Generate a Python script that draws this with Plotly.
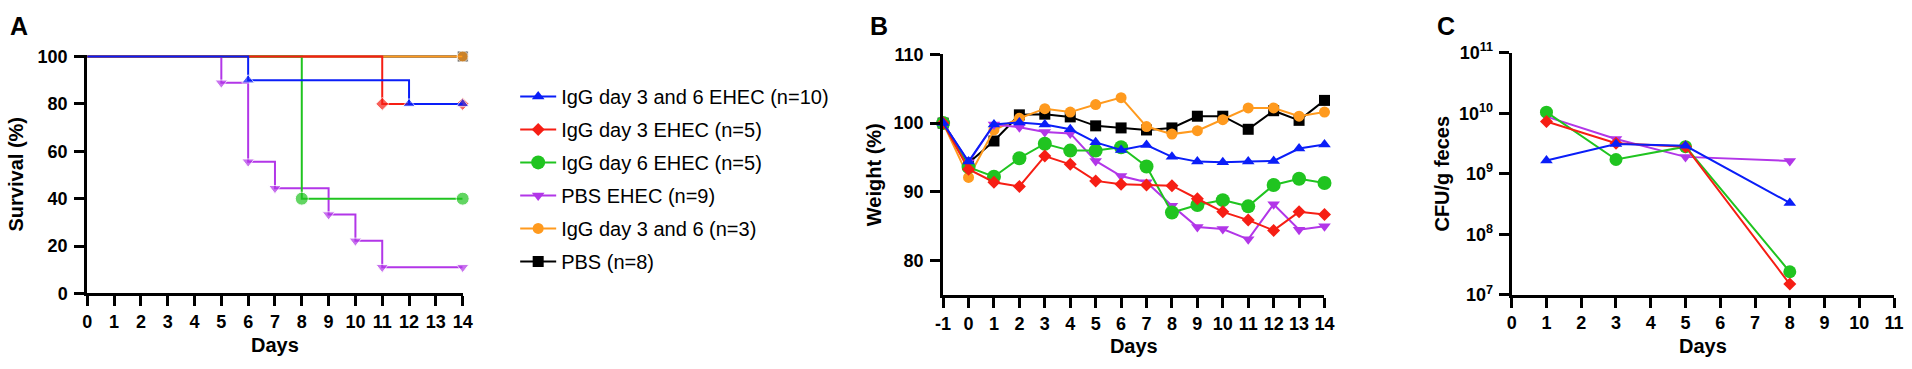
import plotly.graph_objects as go

W, H = 1912, 369

# ---------------- data ----------------
# Panel A: survival (%)
surv_days_blue = [0, 6, 12, 14]
surv_blue = [100, 90, 80, 80]
surv_days_red = [0, 11, 14]
surv_red = [100, 80, 80]
surv_days_green = [0, 8, 14]
surv_green = [100, 40, 40]
surv_days_purple = [0, 5, 6, 7, 9, 10, 11, 14]
surv_purple = [100, 88.9, 55.6, 44.4, 33.3, 22.2, 11.1, 11.1]
surv_days_orange = [0, 14]
surv_orange = [100, 100]
surv_days_black = [0, 14]
surv_black = [100, 100]
surv_ticks = [0, 20, 40, 60, 80, 100]

# Panel B: weight (%)
weight_days = [-1, 0, 1, 2, 3, 4, 5, 6, 7, 8, 9, 10, 11, 12, 13, 14]
weight_blue = [100, 94.4, 99.8, 100.1, 99.8, 99.1, 97.2, 96.1, 96.8, 95.1, 94.4, 94.3, 94.4, 94.5, 96.3, 96.9]
weight_red = [100, 93.3, 91.4, 90.8, 95.2, 94.0, 91.6, 91.1, 91.0, 90.9, 89.0, 87.1, 85.9, 84.4, 87.1, 86.7]
weight_green = [100, 93.6, 92.2, 94.9, 97.0, 96.0, 96.0, 96.5, 93.7, 87.0, 88.1, 88.8, 87.9, 91.0, 91.9, 91.3]
weight_purple = [100, 94.3, 99.8, 99.4, 98.7, 98.5, 94.5, 92.3, 91.4, 88.0, 84.9, 84.6, 83.1, 88.2, 84.5, 85.0]
weight_orange = [100, 92.1, 99.0, 100.7, 102.1, 101.6, 102.7, 103.7, 99.5, 98.4, 98.9, 100.5, 102.2, 102.2, 101.0, 101.6]
weight_black = [100, 94.2, 97.4, 101.2, 101.3, 100.9, 99.6, 99.3, 99.0, 99.3, 101.0, 101.0, 99.1, 101.8, 100.4, 103.3]
weight_ticks = [80, 90, 100, 110]

# Panel C: CFU/g feces
cfu_days = [1, 3, 5, 8]
cfu_blue = [1.65e9, 3.1e9, 2.9e9, 3.3e8]
cfu_red = [7.3e9, 3.2e9, 2.8e9, 1.5e7]
cfu_green = [1.04e10, 1.72e9, 2.8e9, 2.4e7]
cfu_purple = [8.8e9, 3.75e9, 1.9e9, 1.63e9]

cfu_tickvals = [1e7, 1e8, 1e9, 1e10, 1e11]
cfu_ticktext = ["10<sup>7</sup>", "10<sup>8</sup>", "10<sup>9</sup>", "10<sup>10</sup>", "10<sup>11</sup>"]

group_names = {
    "blue": "IgG day 3 and 6 EHEC (n=10)",
    "red": "IgG day 3 EHEC (n=5)",
    "green": "IgG day 6 EHEC (n=5)",
    "purple": "PBS EHEC (n=9)",
    "orange": "IgG day 3 and 6 (n=3)",
    "black": "PBS (n=8)",
}

# ---------------- styles ----------------
COL = {"blue": "#0A1EF8", "red": "#F61E14", "green": "#20C420", "purple": "#B236E8",
       "orange": "#FF9A1E", "black": "#000000"}
SYM = {"blue": "triangle-up", "red": "diamond", "green": "circle", "purple": "triangle-down",
       "orange": "circle", "black": "square"}
SIZE = {"blue": 11, "red": 10, "green": 14, "purple": 11, "orange": 11, "black": 11}
RANK = {"blue": 1, "red": 2, "green": 3, "purple": 4, "orange": 5, "black": 6}
DRAW_ORDER = ["black", "orange", "purple", "green", "red", "blue"]

FONT = "Liberation Sans, Arial, sans-serif"

def px_x(p):
    return p / W

def px_y(p):
    return 1 - p / H

fig = go.Figure()

surv = {"blue": (surv_days_blue, surv_blue), "red": (surv_days_red, surv_red),
        "green": (surv_days_green, surv_green), "purple": (surv_days_purple, surv_purple),
        "orange": (surv_days_orange, surv_orange), "black": (surv_days_black, surv_black)}
weight = {"blue": weight_blue, "red": weight_red, "green": weight_green,
          "purple": weight_purple, "orange": weight_orange, "black": weight_black}
cfu = {"blue": cfu_blue, "red": cfu_red, "green": cfu_green, "purple": cfu_purple}

# Panel A (Kaplan-Meier step curves)
for k in DRAW_ORDER:
    xs, ys = surv[k]
    s = SIZE[k] - 1 if k == "green" else SIZE[k]
    fig.add_trace(go.Scatter(
        x=xs, y=ys, mode="lines+markers", line=dict(color=COL[k], width=2, shape="hv"),
        marker=dict(symbol=SYM[k], color=COL[k], size=[0] + [s] * (len(xs) - 1)),
        showlegend=False, cliponaxis=False, xaxis="x", yaxis="y", name=group_names[k]))

# Panel B (weight)
for k in DRAW_ORDER:
    fig.add_trace(go.Scatter(
        x=weight_days, y=weight[k], mode="lines+markers", line=dict(color=COL[k], width=2),
        marker=dict(symbol=SYM[k], color=COL[k], size=SIZE[k]),
        name=group_names[k], legendgroup=k, legendrank=RANK[k], showlegend=True,
        cliponaxis=False, xaxis="x2", yaxis="y2"))

# Panel C (CFU)
for k in ["purple", "green", "red", "blue"]:
    s = SIZE[k] - 1 if k == "green" else SIZE[k]
    fig.add_trace(go.Scatter(
        x=cfu_days, y=cfu[k], mode="lines+markers", line=dict(color=COL[k], width=2),
        marker=dict(symbol=SYM[k], color=COL[k], size=s),
        showlegend=False, cliponaxis=False, xaxis="x3", yaxis="y3", name=group_names[k]))

tickfont = dict(family=FONT, size=18, color="black", weight="bold")
titlefont = dict(family=FONT, size=20, color="black", weight="bold")
axis_common = dict(showline=True, linecolor="black", linewidth=3, ticks="outside", ticklen=10,
                   tickwidth=3, tickcolor="black", showgrid=False, zeroline=False,
                   tickfont=tickfont, fixedrange=True)

fig.update_layout(
    width=W, height=H, margin=dict(l=0, r=0, t=0, b=0),
    paper_bgcolor="white", plot_bgcolor="white",
    xaxis=dict(domain=[px_x(80), px_x(459)], range=[0, 14], dtick=1, tick0=0, anchor="y",
               title=dict(text="Days", font=titlefont, standoff=7), **axis_common),
    yaxis=dict(domain=[px_y(299.3), px_y(45.8)], range=[0, 100.6], tickvals=surv_ticks,
               anchor="x", ticklabelstandoff=3,
               title=dict(text="Survival (%)", font=titlefont, standoff=9), **axis_common),
    xaxis2=dict(domain=[px_x(944), px_x(1329)], range=[-1, 14], tickvals=weight_days,
                ticktext=[str(d) for d in weight_days], anchor="y2",
                title=dict(text="Days", font=titlefont, standoff=7), **axis_common),
    yaxis2=dict(domain=[px_y(301), px_y(45)], range=[75, 110], tickvals=weight_ticks,
                anchor="x2", ticklabelstandoff=3,
                title=dict(text="Weight (%)", font=titlefont, standoff=7), **axis_common),
    xaxis3=dict(domain=[px_x(1518), px_x(1904)], range=[0, 11], dtick=1, tick0=0, anchor="y3",
                title=dict(text="Days", font=titlefont, standoff=7), **axis_common),
    yaxis3=dict(domain=[px_y(300.7), px_y(43.3)], type="log", range=[7, 11], tickvals=cfu_tickvals,
                ticktext=cfu_ticktext, anchor="x3", ticklabelstandoff=2,
                title=dict(text="CFU/g feces", font=titlefont, standoff=5), **axis_common),
    legend=dict(x=px_x(512), y=px_y(69), xanchor="left", yanchor="top", itemwidth=36,
                font=dict(family=FONT, size=20, color="black"), tracegroupgap=4,
                bgcolor="rgba(0,0,0,0)", borderwidth=0, itemclick=False, itemdoubleclick=False),
    showlegend=True,
)

for letter, xp in [("A", 11), ("B", 879), ("C", 1452)]:
    fig.add_annotation(text=letter, x=px_x(xp), y=px_y(15), xref="paper", yref="paper",
                       xanchor="center", yanchor="middle", showarrow=False,
                       font=dict(family=FONT, size=25, color="black", weight="bold"))

fig.write_html("out.html", config={"displayModeBar": False},
               post_script="document.body.style.margin='0';document.body.style.overflow='hidden';")
